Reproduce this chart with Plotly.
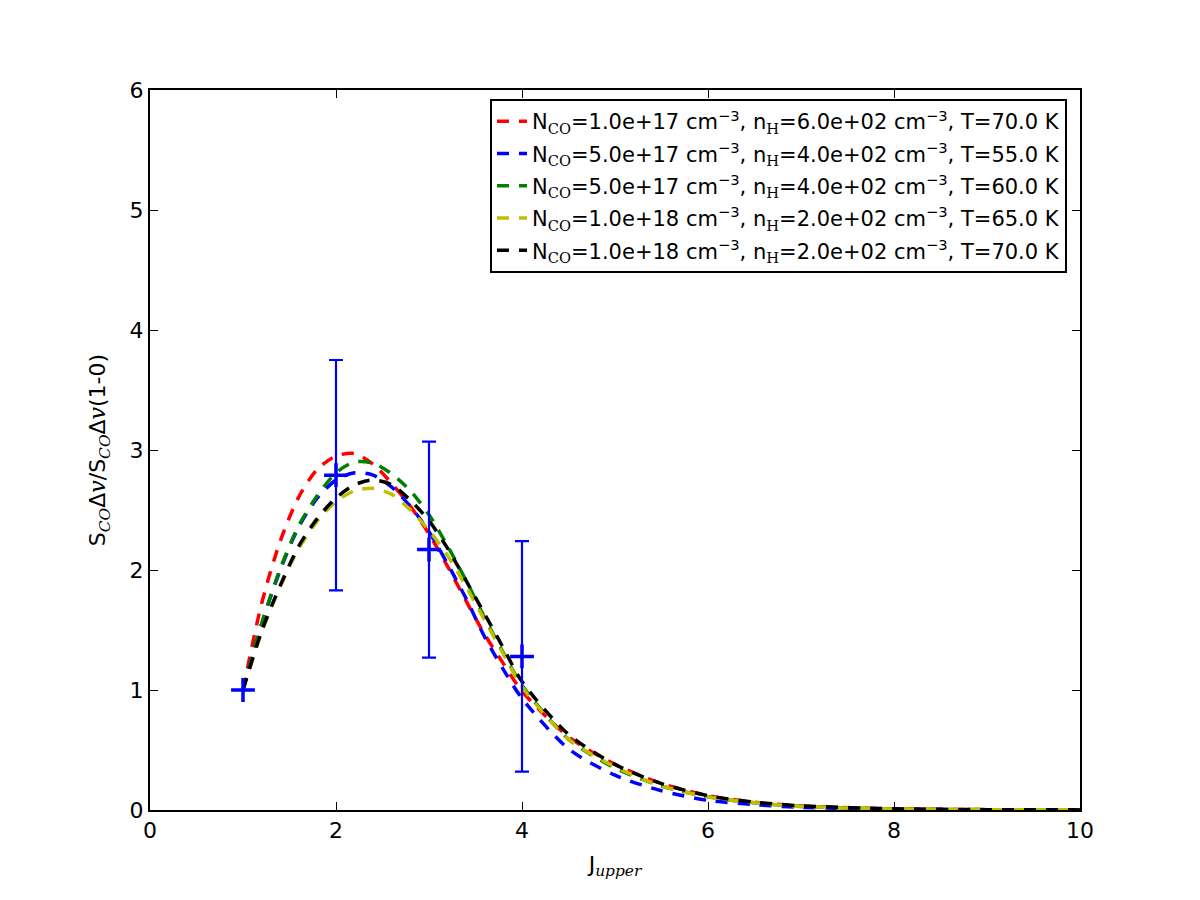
import plotly.graph_objects as go

# model grid (J_upper)
j_model = [1.0, 1.2, 1.4, 1.6, 1.8, 2.0, 2.2, 2.4, 2.6, 2.8, 3.0, 3.2, 3.4, 3.6, 3.8, 4.0,
           4.5, 5.0, 5.5, 6.0, 6.5, 7.0, 8.0, 9.0, 10.0]

red_vals = [1.0, 1.72, 2.24, 2.61, 2.84, 2.95, 2.97, 2.88, 2.72, 2.53, 2.30, 2.03, 1.74, 1.46, 1.22, 0.99,
            0.61, 0.38, 0.22, 0.12, 0.065, 0.034, 0.01, 0.003, 0.001]
blue_vals = [1.0, 1.55, 2.0, 2.36, 2.60, 2.75, 2.81, 2.79, 2.69, 2.53, 2.32, 2.05, 1.76, 1.44, 1.17, 0.93,
             0.51, 0.29, 0.16, 0.08, 0.045, 0.022, 0.006, 0.002, 0.0005]
green_vals = [1.0, 1.55, 2.01, 2.37, 2.62, 2.81, 2.90, 2.89, 2.80, 2.66, 2.46, 2.20, 1.91, 1.60, 1.31, 1.04,
              0.59, 0.35, 0.20, 0.11, 0.06, 0.03, 0.009, 0.003, 0.001]
yellow_vals = [1.0, 1.48, 1.86, 2.18, 2.41, 2.57, 2.66, 2.68, 2.63, 2.50, 2.33, 2.12, 1.86, 1.58, 1.30, 1.03,
               0.59, 0.36, 0.20, 0.11, 0.06, 0.03, 0.009, 0.003, 0.001]
black_vals = [1.0, 1.49, 1.87, 2.20, 2.43, 2.60, 2.71, 2.75, 2.71, 2.58, 2.41, 2.18, 1.91, 1.63, 1.35, 1.07,
              0.63, 0.38, 0.22, 0.12, 0.065, 0.035, 0.01, 0.003, 0.001]

SER = "<span style=\"font-family:'DejaVu Serif'\">"
series_names = [
    f"N<sub>{SER}CO</span></sub>=1.0e+17 cm<sup>\u22123</sup>, n<sub>{SER}H</span></sub>=6.0e+02 cm<sup>\u22123</sup>, T=70.0 K",
    f"N<sub>{SER}CO</span></sub>=5.0e+17 cm<sup>\u22123</sup>, n<sub>{SER}H</span></sub>=4.0e+02 cm<sup>\u22123</sup>, T=55.0 K",
    f"N<sub>{SER}CO</span></sub>=5.0e+17 cm<sup>\u22123</sup>, n<sub>{SER}H</span></sub>=4.0e+02 cm<sup>\u22123</sup>, T=60.0 K",
    f"N<sub>{SER}CO</span></sub>=1.0e+18 cm<sup>\u22123</sup>, n<sub>{SER}H</span></sub>=2.0e+02 cm<sup>\u22123</sup>, T=65.0 K",
    f"N<sub>{SER}CO</span></sub>=1.0e+18 cm<sup>\u22123</sup>, n<sub>{SER}H</span></sub>=2.0e+02 cm<sup>\u22123</sup>, T=70.0 K",
]
series_colors = ["#ff0000", "#0000ff", "#008000", "#bfbf00", "#000000"]

# observed ratios
j_obs = [1, 2, 3, 4]
ratio_obs = [1.0, 2.79, 2.17, 1.28]
ratio_err = [0.0, 0.96, 0.90, 0.96]

fig = go.Figure()
for i, (name, vals, col) in enumerate(zip(series_names,
                                          [red_vals, blue_vals, green_vals, yellow_vals, black_vals],
                                          series_colors)):
    fig.add_trace(go.Scatter(
        x=j_model, y=vals, mode="lines", name=name, legendgroup=f"g{i}",
        line=dict(color=col, width=3.5, dash="12px,10px", shape="spline", smoothing=0.8),
    ))

fig.add_trace(go.Scatter(
    x=j_obs, y=ratio_obs, mode="markers", showlegend=False,
    marker=dict(symbol="cross-thin", size=17, line=dict(color="#0000ff", width=3.5), color="#0000ff"),
    error_y=dict(type="data", array=ratio_err, visible=True, color="#0000ff", thickness=2.2, width=7),
))

fig.update_layout(
    width=1200, height=900,
    margin=dict(l=150, r=120, t=90, b=90),
    paper_bgcolor="white", plot_bgcolor="white",
    font=dict(family="DejaVu Sans", size=22, color="black"),
    showlegend=True,
    legend=dict(
        x=0.986, y=0.9875, xanchor="right", yanchor="top",
        bgcolor="white", bordercolor="black", borderwidth=2,
        font=dict(family="DejaVu Sans", size=21, color="black"),
        tracegroupgap=2,
    ),
)

fig.update_xaxes(
    range=[0, 10], tickvals=[0, 2, 4, 6, 8, 10],
    showgrid=False, zeroline=False,
    showline=True, linecolor="black", linewidth=2, mirror="allticks",
    ticks="inside", ticklen=8, tickwidth=1, tickcolor="black",
    tickfont=dict(size=22),
    title=dict(text=f"J<sub>{SER}<i>upper</i></span></sub>", font=dict(size=22), standoff=14),
)
fig.update_yaxes(
    range=[0, 6], tickvals=[0, 1, 2, 3, 4, 5, 6],
    showgrid=False, zeroline=False,
    showline=True, linecolor="black", linewidth=2, mirror="allticks",
    ticks="inside", ticklen=8, tickwidth=1, tickcolor="black",
    tickfont=dict(size=22),
    title=dict(text=f"S<sub>{SER}<i>CO</i></span></sub>\u0394{SER}<i>v</i></span>/S<sub>{SER}<i>CO</i></span></sub>\u0394{SER}<i>v</i></span>(1-0)",
               font=dict(size=22), standoff=18),
)

fig.write_html("out.html")
